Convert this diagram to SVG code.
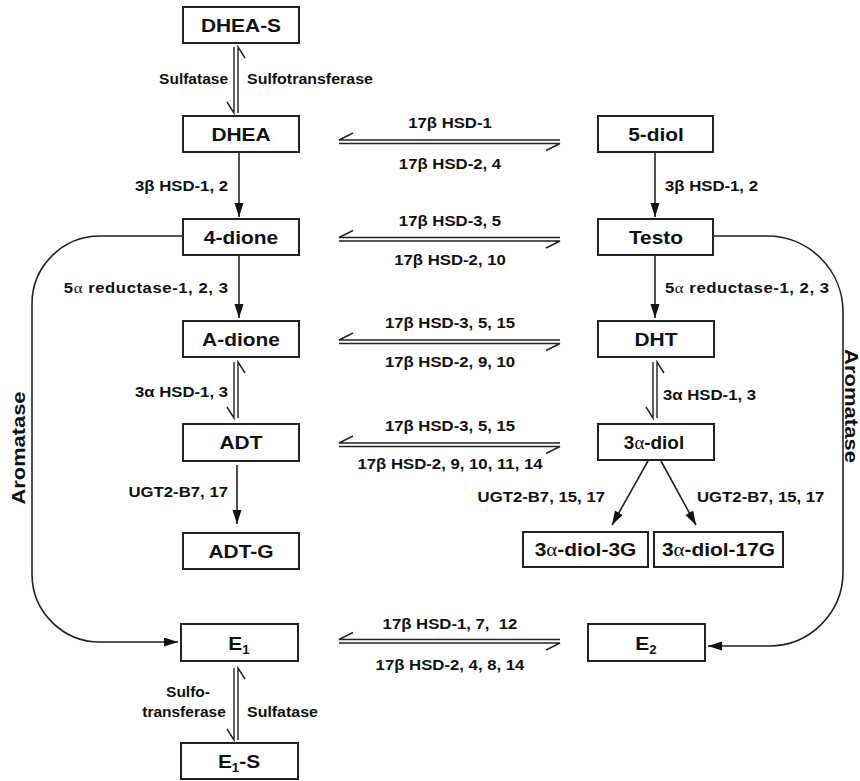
<svg xmlns="http://www.w3.org/2000/svg" width="860" height="781" viewBox="0 0 860 781">
<style>
.box{fill:#fff;stroke:#222;stroke-width:2}
.bt{font-family:"Liberation Sans",Arial,sans-serif;font-weight:bold;font-size:19px;fill:#111;text-anchor:middle}
.lb{font-family:"Liberation Sans",Arial,sans-serif;font-weight:bold;font-size:15.5px;fill:#111}
.m{text-anchor:middle}.e{text-anchor:end}
.sym{font-family:"Liberation Serif","Times New Roman",serif;font-weight:normal}
.ln{stroke:#222;stroke-width:1.6;fill:none}
.dl{stroke:#222;stroke-width:1.4;fill:none}
.sub{font-size:12px}
</style>
<defs>
<marker id="ah" markerUnits="userSpaceOnUse" markerWidth="16" markerHeight="10" refX="14" refY="4.5" orient="auto">
<path d="M0,0 L14,4.5 L0,9 z" fill="#111"/>
</marker>
</defs>
<rect width="860" height="781" fill="#fff"/>

<g id="connectors">
<path class="dl" d="M234,47 V113 L227,102"/>
<path class="dl" d="M238,113 V47 L245,58"/>
<path class="dl" d="M234,362 V418 L227,407"/>
<path class="dl" d="M238,418 V362 L245,373"/>
<path class="dl" d="M234,668 V740 L227,729"/>
<path class="dl" d="M238,740 V668 L245,679"/>
<path class="dl" d="M653,362 V418 L646,407"/>
<path class="dl" d="M657,418 V362 L664,373"/>
<path class="dl" d="M560,140 H339 L353,133"/>
<path class="dl" d="M339,143.5 H560 L546,150.5"/>
<path class="dl" d="M560,237.5 H339 L353,230.5"/>
<path class="dl" d="M339,241 H560 L546,248"/>
<path class="dl" d="M560,340 H339 L353,333"/>
<path class="dl" d="M339,343.5 H560 L546,350.5"/>
<path class="dl" d="M560,443 H339 L353,436"/>
<path class="dl" d="M339,446.5 H560 L546,453.5"/>
<path class="dl" d="M560,639.5 H339 L353,632.5"/>
<path class="dl" d="M339,643 H560 L546,650"/>
<line class="ln" x1="239" y1="153" x2="239" y2="217" marker-end="url(#ah)"/>
<line class="ln" x1="239" y1="256" x2="239" y2="318" marker-end="url(#ah)"/>
<line class="ln" x1="237" y1="465" x2="237" y2="524" marker-end="url(#ah)"/>
<line class="ln" x1="655" y1="153" x2="655" y2="217" marker-end="url(#ah)"/>
<line class="ln" x1="655" y1="256" x2="655" y2="318" marker-end="url(#ah)"/>
<line class="ln" x1="648" y1="461" x2="612" y2="525" marker-end="url(#ah)"/>
<line class="ln" x1="661" y1="461" x2="696" y2="525" marker-end="url(#ah)"/>
<path class="ln" d="M183,236 H100 A68,68 0 0 0 32,304 V574 A68,68 0 0 0 100,642 H178" marker-end="url(#ah)"/>
<path class="ln" d="M714,236 H767 A76,76 0 0 1 843,312 V572 A74,74 0 0 1 769,646 H708" marker-end="url(#ah)"/>
</g>

<g id="labels">
<text class="lb e" transform="translate(228,84)">Sulfatase</text>
<text class="lb" transform="translate(247,84) scale(1.03,1)">Sulfotransferase</text>
<text class="lb e" transform="translate(228,191) scale(1.08,1)">3β HSD-1, 2</text>
<text class="lb e" transform="translate(228,293) scale(1.08,1)" textLength="152">5<tspan class="sym">α</tspan> reductase-1, 2, 3</text>
<text class="lb e" transform="translate(228,397) scale(1.08,1)">3α HSD-1, 3</text>
<text class="lb e" transform="translate(228,497) scale(1.08,1)">UGT2-B7, 17</text>
<text class="lb m" transform="translate(188,697)">Sulfo-</text>
<text class="lb m" transform="translate(184,717)">transferase</text>
<text class="lb" transform="translate(247,717) scale(1.03,1)">Sulfatase</text>
<text class="lb" transform="translate(665,191) scale(1.08,1)">3β HSD-1, 2</text>
<text class="lb" transform="translate(665,293) scale(1.08,1)" textLength="152">5<tspan class="sym">α</tspan> reductase-1, 2, 3</text>
<text class="lb" transform="translate(663,400) scale(1.08,1)">3α HSD-1, 3</text>
<text class="lb e" transform="translate(605,502) scale(1.08,1)">UGT2-B7, 15, 17</text>
<text class="lb" transform="translate(697,502) scale(1.08,1)">UGT2-B7, 15, 17</text>
<text class="lb m" transform="translate(450,128) scale(1.08,1)">17β HSD-1</text>
<text class="lb m" transform="translate(450,169) scale(1.08,1)">17β HSD-2, 4</text>
<text class="lb m" transform="translate(450,226) scale(1.08,1)">17β HSD-3, 5</text>
<text class="lb m" transform="translate(450,265) scale(1.08,1)">17β HSD-2, 10</text>
<text class="lb m" transform="translate(450,328) scale(1.08,1)">17β HSD-3, 5, 15</text>
<text class="lb m" transform="translate(450,367) scale(1.08,1)">17β HSD-2, 9, 10</text>
<text class="lb m" transform="translate(450,431) scale(1.08,1)">17β HSD-3, 5, 15</text>
<text class="lb m" transform="translate(450,469) scale(1.08,1)">17β HSD-2, 9, 10, 11, 14</text>
<text class="lb m" transform="translate(450,629) scale(1.08,1)" xml:space="preserve">17β HSD-1, 7,  12</text>
<text class="lb m" transform="translate(450,670) scale(1.08,1)">17β HSD-2, 4, 8, 14</text>
<text class="lb m" transform="translate(25,448) rotate(-90)" style="font-size:18px" textLength="113" lengthAdjust="spacingAndGlyphs">Aromatase</text>
<text class="lb m" transform="translate(845,406) rotate(90)" style="font-size:17.5px" textLength="114" lengthAdjust="spacingAndGlyphs">Aromatase</text>
</g>

<g id="DHEA-S"><rect class="box" x="183" y="7" width="116" height="36"/><text class="bt" transform="translate(241,32) scale(1.1,1)">DHEA-S</text></g>
<g id="DHEA"><rect class="box" x="183" y="116" width="116" height="36"/><text class="bt" transform="translate(241,141) scale(1.1,1)">DHEA</text></g>
<g id="4-dione"><rect class="box" x="183" y="219" width="116" height="36"/><text class="bt" transform="translate(241,244) scale(1.1,1)">4-dione</text></g>
<g id="A-dione"><rect class="box" x="183" y="321" width="116" height="36"/><text class="bt" transform="translate(241,346) scale(1.1,1)">A-dione</text></g>
<g id="ADT"><rect class="box" x="183" y="424" width="116" height="37"/><text class="bt" transform="translate(241,449) scale(1.1,1)">ADT</text></g>
<g id="ADT-G"><rect class="box" x="183" y="533" width="116" height="36"/><text class="bt" transform="translate(241,558) scale(1.1,1)">ADT-G</text></g>
<g id="E1"><rect class="box" x="181" y="624" width="117" height="37"/><text class="bt" transform="translate(239,650) scale(1.1,1)">E<tspan class="sub" dy="4">1</tspan></text></g>
<g id="E1-S"><rect class="box" x="181" y="743" width="117" height="36"/><text class="bt" transform="translate(239,768) scale(1.1,1)">E<tspan class="sub" dy="4">1</tspan><tspan dy="-4">-S</tspan></text></g>
<g id="5-diol"><rect class="box" x="598" y="116" width="115" height="36"/><text class="bt" transform="translate(656,141) scale(1.1,1)">5-diol</text></g>
<g id="Testo"><rect class="box" x="598" y="219" width="115" height="36"/><text class="bt" transform="translate(656,244) scale(1.1,1)">Testo</text></g>
<g id="DHT"><rect class="box" x="598" y="321" width="116" height="36"/><text class="bt" transform="translate(656,346) scale(1.1,1)">DHT</text></g>
<g id="3a-diol"><rect class="box" x="598" y="424" width="116" height="36"/><text class="bt" transform="translate(654,449) scale(1.05,1)" style="font-size:18px">3<tspan class="sym">α</tspan>-diol</text></g>
<g id="3a-diol-3G"><rect class="box" x="523" y="532" width="125" height="35"/><text class="bt" transform="translate(585.5,556) scale(1.1,1)">3<tspan class="sym">α</tspan>-diol-3G</text></g>
<g id="3a-diol-17G"><rect class="box" x="654" y="532" width="129" height="35"/><text class="bt" transform="translate(718.5,556) scale(1.1,1)">3<tspan class="sym">α</tspan>-diol-17G</text></g>
<g id="E2"><rect class="box" x="588" y="624" width="117" height="37"/><text class="bt" transform="translate(646,650) scale(1.1,1)">E<tspan class="sub" dy="4">2</tspan></text></g>
</svg>
